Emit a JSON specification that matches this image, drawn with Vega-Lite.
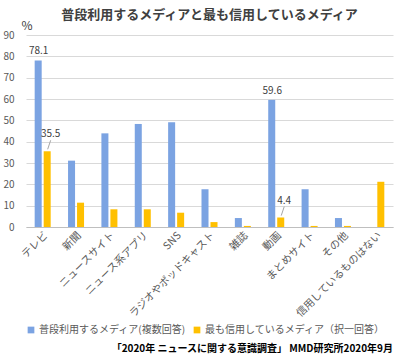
{
  "$schema": "https://vega.github.io/schema/vega-lite/v6.json",
  "padding": {"left": 2, "top": 9, "right": 3, "bottom": 3},
  "config": {
    "font": "Noto Sans CJK JP",
    "view": {"stroke": null},
    "axis": {"labelColor": "#595959", "titleColor": "#404040"}
  },
  "title": {
    "text": "「2020年 ニュースに関する意識調査」 MMD研究所2020年9月",
    "orient": "bottom",
    "anchor": "end",
    "fontSize": 10,
    "fontWeight": "bold",
    "color": "#000000",
    "offset": 9
  },
  "vconcat": [
    {
      "width": 367,
      "height": 192,
      "title": {
        "text": "普段利用するメディアと最も信用しているメディア",
        "fontSize": 13,
        "fontWeight": "bold",
        "color": "#404040",
        "anchor": "middle",
        "frame": "group",
        "offset": -3
      },
      "data": {
        "values": [
          {"media": "テレビ", "series": "普段利用するメディア(複数回答)", "value": 78.1, "label": "78.1"},
          {"media": "テレビ", "series": "最も信用しているメディア（択一回答）", "value": 35.5, "label": "35.5"},
          {"media": "新聞", "series": "普段利用するメディア(複数回答)", "value": 31.1},
          {"media": "新聞", "series": "最も信用しているメディア（択一回答）", "value": 11.4},
          {"media": "ニュースサイト", "series": "普段利用するメディア(複数回答)", "value": 43.9},
          {"media": "ニュースサイト", "series": "最も信用しているメディア（択一回答）", "value": 8.3},
          {"media": "ニュース系アプリ", "series": "普段利用するメディア(複数回答)", "value": 48.3},
          {"media": "ニュース系アプリ", "series": "最も信用しているメディア（択一回答）", "value": 8.3},
          {"media": "SNS", "series": "普段利用するメディア(複数回答)", "value": 49.1},
          {"media": "SNS", "series": "最も信用しているメディア（択一回答）", "value": 6.7},
          {"media": "ラジオやポッドキャスト", "series": "普段利用するメディア(複数回答)", "value": 17.7},
          {"media": "ラジオやポッドキャスト", "series": "最も信用しているメディア（択一回答）", "value": 2.3},
          {"media": "雑誌", "series": "普段利用するメディア(複数回答)", "value": 4.2},
          {"media": "雑誌", "series": "最も信用しているメディア（択一回答）", "value": 0.5},
          {"media": "動画", "series": "普段利用するメディア(複数回答)", "value": 59.6, "label": "59.6"},
          {"media": "動画", "series": "最も信用しているメディア（択一回答）", "value": 4.4, "label": "4.4"},
          {"media": "まとめサイト", "series": "普段利用するメディア(複数回答)", "value": 17.7},
          {"media": "まとめサイト", "series": "最も信用しているメディア（択一回答）", "value": 0.5},
          {"media": "その他", "series": "普段利用するメディア(複数回答)", "value": 4.2},
          {"media": "その他", "series": "最も信用しているメディア（択一回答）", "value": 0.5},
          {"media": "信用しているものはない", "series": "最も信用しているメディア（択一回答）", "value": 21.2}
        ]
      },
      "encoding": {
        "x": {
          "field": "media",
          "type": "nominal",
          "sort": null,
          "scale": {"paddingInner": 0.52, "paddingOuter": 0.26},
          "axis": {
            "title": null,
            "labelAngle": -45,
            "labelFontSize": 10.5,
            "labelPadding": 3,
            "ticks": false,
            "domainColor": "#BFBFBF",
            "labelLimit": 0
          }
        },
        "y": {
          "field": "value",
          "type": "quantitative",
          "scale": {"domain": [0, 90]},
          "axis": {
            "values": [0, 10, 20, 30, 40, 50, 60, 70, 80, 90],
            "title": "%",
            "titleAngle": 0,
            "titleX": -5,
            "titleY": -10,
            "titleAlign": "left",
            "titleBaseline": "middle",
            "titleFontSize": 12,
            "titleFontWeight": "normal",
            "labelFontSize": 10,
            "labelPadding": 12,
            "ticks": false,
            "domain": false,
            "gridColor": "#D9D9D9"
          }
        }
      },
      "layer": [
        {
          "mark": {"type": "bar"},
          "encoding": {
            "xOffset": {
              "field": "series",
              "type": "nominal",
              "sort": ["普段利用するメディア(複数回答)", "最も信用しているメディア（択一回答）"],
              "scale": {"paddingInner": 0.22}
            },
            "color": {
              "field": "series",
              "type": "nominal",
              "scale": {
                "domain": ["普段利用するメディア(複数回答)", "最も信用しているメディア（択一回答）"],
                "range": ["#7BA3E2", "#FFC000"]
              },
              "legend": {
                "title": null,
                "orient": "bottom",
                "direction": "horizontal",
                "symbolType": "square",
                "symbolSize": 45,
                "labelFontSize": 10,
                "labelColor": "#595959",
                "labelLimit": 0,
                "labelOffset": 3,
                "columnPadding": 6,
                "offset": 5
              }
            }
          }
        },
        {
          "transform": [
            {"filter": "datum.label && datum.series == '普段利用するメディア(複数回答)'"}
          ],
          "mark": {"type": "text", "fontSize": 10, "color": "#404040", "xOffset": -4, "dy": -9},
          "encoding": {"text": {"field": "label"}}
        },
        {
          "transform": [
            {"filter": "datum.label && datum.series == '最も信用しているメディア（択一回答）'"}
          ],
          "mark": {"type": "text", "fontSize": 10, "color": "#404040", "xOffset": 8, "dy": -17},
          "encoding": {"text": {"field": "label"}}
        },
        {
          "transform": [
            {"filter": "datum.label && datum.series == '最も信用しているメディア（択一回答）'"}
          ],
          "mark": {"type": "rule", "color": "#A6A6A6", "strokeWidth": 1, "xOffset": 5, "x2Offset": 8, "yOffset": -2, "y2Offset": -11},
          "encoding": {
            "x2": {"field": "media"},
            "y2": {"field": "value"}
          }
        }
      ]
    }
  ]
}
